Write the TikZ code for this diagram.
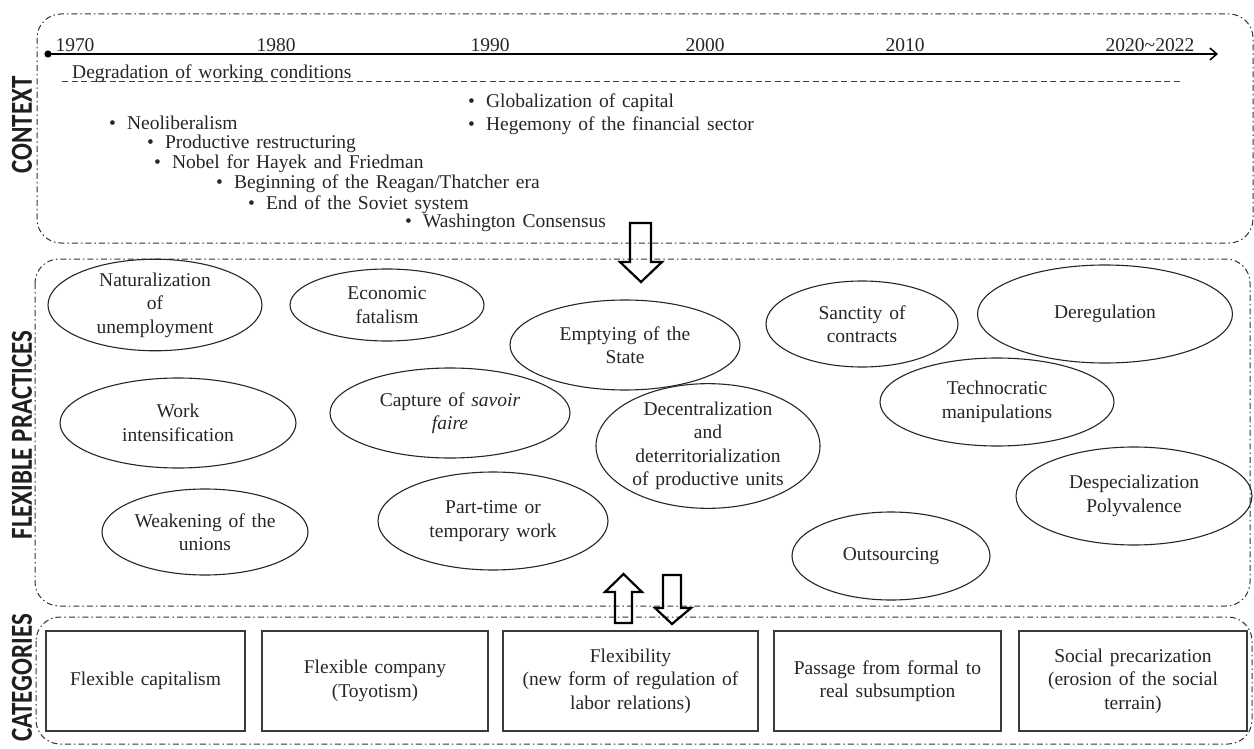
\documentclass[tikz,border=0pt]{standalone}
\usepackage{fontspec}
\setmainfont{Liberation Serif}
\newfontfamily\labelfont{Carlito}
\usetikzlibrary{shapes.geometric,arrows.meta}
\definecolor{framegray}{HTML}{333333}
\definecolor{boxgray}{HTML}{3A3A3A}
\definecolor{txt}{HTML}{262626}
\newcommand{\mainfs}{\fontsize{19.5}{23.5}\selectfont\spaceskip=0.35em plus 0.1em minus 0.05em\relax}
\newcommand{\tallbox}[1]{\scalebox{1}[1.22]{#1}}
\tikzset{
  frame/.style={draw=framegray, line width=1pt, dash pattern=on 6pt off 3pt on 1.5pt off 3pt, rounded corners=24pt},
  evt/.style={anchor=base west, inner sep=0pt, text=txt, font=\mainfs},
  yearlbl/.style={anchor=base, inner sep=0pt, text=txt, font=\mainfs},
  prac/.style={ellipse, draw=black!85, line width=1.1pt, inner sep=0pt, align=center, text=txt, font=\mainfs},
  catbox/.style={rectangle, draw=boxgray, line width=1.2pt, align=center, inner sep=0pt, text=txt, font=\mainfs},
  hollow/.style={draw=black, line width=2.2pt, line join=miter},
  sidelbl/.style={rotate=90, inner sep=0pt, font=\labelfont\bfseries\fontsize{25}{25}\selectfont, text=black!88}
}
\begin{document}
\begin{tikzpicture}[x=1pt,y=-1pt]
\useasboundingbox (0,0) rectangle (1254,749);
\clip (0,0) rectangle (1254,749);

% frames
\draw[frame] (37,14) rectangle (1253,243);
\draw[frame] (35,259) rectangle (1250,606);
\draw[frame] (36,617) rectangle (1252,744);

% side labels
\node[sidelbl] (lctx) at (22,125) {\tallbox{CONTEXT}};
\node[sidelbl] (lprac) at (22,435) {\tallbox{FLEXIBLE PRACTICES}};
\node[sidelbl] (lcat) at (22,678) {\tallbox{CATEGORIES}};

% timeline
\coordinate (tstart) at (48,54);
\coordinate (tend) at (1218,54);
\fill[black] (tstart) circle (3.6pt);
\draw[line width=1.5pt, -{Straight Barb[length=7pt,width=12pt,line width=1.5pt]}] (tstart) -- (tend);
\node[yearlbl] (y1970) at (75,52) {1970};
\node[yearlbl] (y1980) at (276,52) {1980};
\node[yearlbl] (y1990) at (490,52) {1990};
\node[yearlbl] (y2000) at (705,52) {2000};
\node[yearlbl] (y2010) at (905,52) {2010};
\node[yearlbl] (y2020) at (1150,52) {2020\textasciitilde2022};

% degradation
\coordinate (dgs) at (62,82);
\coordinate (dge) at (1180,82);
\draw[draw=black!75, line width=1pt, dash pattern=on 6pt off 3.5pt] (dgs) -- (dge);
\node[evt] (degr) at (72,79) {Degradation of working conditions};

% events
\node[evt] (e1) at (109,130) {\textbullet\hspace{11pt}Neoliberalism};
\node[evt] (e2) at (147,149) {\textbullet\hspace{11pt}Productive restructuring};
\node[evt] (e3) at (154,169) {\textbullet\hspace{11pt}Nobel for Hayek and Friedman};
\node[evt] (e4) at (216,189) {\textbullet\hspace{11pt}Beginning of the Reagan/Thatcher era};
\node[evt] (e5) at (248,209) {\textbullet\hspace{11pt}End of the Soviet system};
\node[evt] (e6) at (405,228) {\textbullet\hspace{11pt}Washington Consensus};
\node[evt] (e7) at (468,108) {\textbullet\hspace{11pt}Globalization of capital};
\node[evt] (e8) at (468,131) {\textbullet\hspace{11pt}Hegemony of the financial sector};

% hollow arrows
\draw[hollow] (630,223) -- (651,223) -- (651,262) -- (662,262) -- (641,282) -- (620,262) -- (630,262) -- cycle;
\draw[hollow] (615,623) -- (632,623) -- (632,592) -- (642,592) -- (623.5,574) -- (605,592) -- (615,592) -- cycle;
\draw[hollow] (663,575) -- (681,575) -- (681,608) -- (691,608) -- (672,624) -- (655,608) -- (663,608) -- cycle;

% practices
\node[prac, minimum width=214pt, minimum height=82pt] (p1) at (155,305) {Naturalization\\of\\unemployment};
\node[prac, minimum width=194pt, minimum height=72pt] (p2) at (387,305) {Economic\\fatalism};
\node[prac, minimum width=230pt, minimum height=90pt] (p3) at (625,345) {Emptying of the\\State};
\node[prac, minimum width=192pt, minimum height=86pt] (p4) at (862,324) {Sanctity of\\contracts};
\node[prac, minimum width=255pt, minimum height=98pt] (p5) at (1105,314) {Deregulation};
\node[prac, minimum width=236pt, minimum height=90pt] (p6) at (178,423) {Work\\intensification};
\node[prac, minimum width=240pt, minimum height=90pt] (p7) at (450,413) {Capture of \textit{savoir}\\\textit{faire}};
\node[prac, minimum width=234pt, minimum height=88pt] (p8) at (997,402) {Technocratic\\manipulations};
\node[prac, minimum width=224pt, minimum height=120pt] (p9) at (708,446) {Decentralization\\and\\deterritorialization\\of productive units};
\node[prac, minimum width=206pt, minimum height=86pt] (p10) at (205,532) {Weakening of the\\unions};
\node[prac, minimum width=230pt, minimum height=98pt] (p11) at (493,521) {Part-time or\\temporary work};
\node[prac, minimum width=198pt, minimum height=88pt] (p12) at (891,556) {Outsourcing};
\node[prac, minimum width=236pt, minimum height=98pt] (p13) at (1134,496) {Despecialization\\Polyvalence};

% categories
\node[catbox, minimum width=199pt, minimum height=100pt] (c1) at (145.5,681) {Flexible capitalism};
\node[catbox, minimum width=226pt, minimum height=100pt] (c2) at (375,681) {Flexible company\\(Toyotism)};
\node[catbox, minimum width=255pt, minimum height=100pt] (c3) at (630.5,681) {Flexibility\\(new form of regulation of\\labor relations)};
\node[catbox, minimum width=227pt, minimum height=100pt] (c4) at (887.5,681) {Passage from formal to\\real subsumption};
\node[catbox, minimum width=228pt, minimum height=100pt] (c5) at (1133,681) {Social precarization\\(erosion of the social\\terrain)};
\end{tikzpicture}
\end{document}
